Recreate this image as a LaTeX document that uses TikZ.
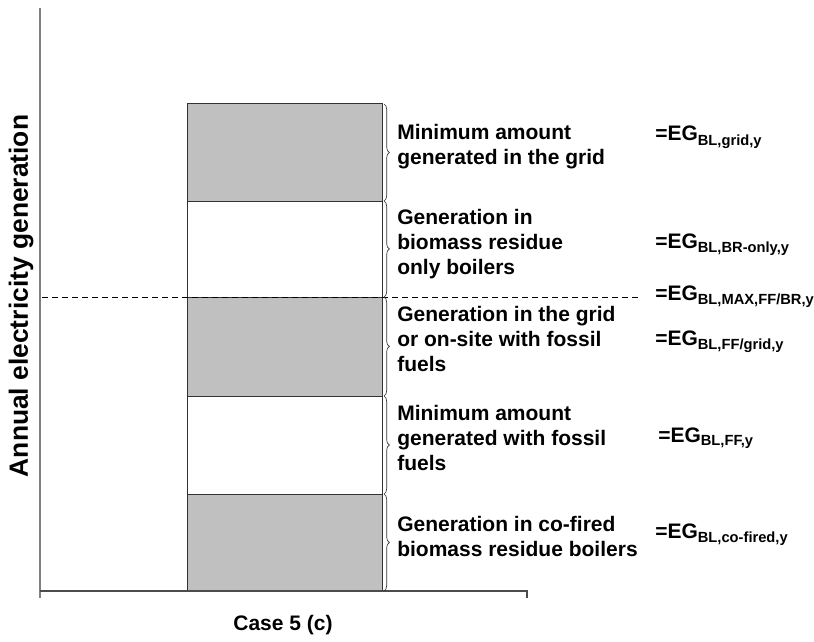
\documentclass[tikz,border=0pt]{standalone}
\usepackage{fontspec}
\setmainfont{Liberation Sans}
\usepackage{xcolor}
\usetikzlibrary{positioning,decorations.pathreplacing}
\definecolor{silver}{RGB}{192,192,192}
\definecolor{axisgray}{RGB}{128,128,128}
\newcommand{\egsub}[1]{=EG\textsubscript{#1}}

\begin{document}
\begin{tikzpicture}[x=0.75pt,y=-0.75pt,
  font=\fontsize{15.75}{19}\selectfont\bfseries,
  seg/.style={draw=black!80, line width=0.75pt},
  bracket/.style={decorate, decoration={brace, amplitude=4pt}, draw=black!80, line width=0.5pt},
  desc/.style={anchor=west, inner sep=0pt, align=left},
  eqn/.style={anchor=base west, inner sep=0pt}]
\useasboundingbox (0,0) rectangle (814,642);

% Stacked bar
\fill[silver] (187,104) rectangle (382,201);
\fill[silver] (187,297) rectangle (382,396);
\fill[silver] (187,494) rectangle (382,591);
\draw[seg] (187,104) rectangle (382,591);
\foreach \y in {201,297,396,494}
  \draw[seg] (187,\y) -- (382,\y);

% Axes
\draw[axisgray, line width=1.2pt] (40,8) -- (40,598);
\draw[black!70, line width=1pt] (40,591) -- (527,591) -- (527,598);
\node[rotate=90, font=\fontsize{19.8}{23}\selectfont\bfseries] (ylab) at (21,296) {Annual electricity generation};
\node (xlab) at (283,625) {Case 5 (c)};

% Threshold
\draw[dashed, dash pattern=on 4.5pt off 3pt, line width=0.75pt] (42,297) -- (640,297);

% Braces
\foreach \y [count=\i] in {104,201,297,396,494,591}
  \coordinate (b\i) at (384,\y);
\foreach \i/\j in {1/2,2/3,3/4,4/5,5/6}
  \draw[bracket] (b\i) -- (b\j);

% Descriptions
\node[desc] (d1) at (397,146.5) {Minimum amount\\generated in the grid};
\node[desc] (d2) at (397,244) {Generation in\\biomass residue\\only boilers};
\node[desc] (d3) at (397,339) {Generation in the grid\\or on-site with fossil\\fuels};
\node[desc] (d4) at (397,438) {Minimum amount\\generated with fossil\\fuels};
\node[desc] (d5) at (397,536.5) {Generation in co-fired\\biomass residue boilers};

% Equations
\node[eqn] (e1) at (655,141) {\egsub{BL,grid,y}};
\node[eqn] (e2) at (655,248) {\egsub{BL,BR-only,y}};
\node[eqn] (e3) at (655,300) {\egsub{BL,MAX,FF/BR,y}};
\node[eqn] (e4) at (655,345) {\egsub{BL,FF/grid,y}};
\node[eqn] (e5) at (658,442) {\egsub{BL,FF,y}};
\node[eqn] (e6) at (655,538) {\egsub{BL,co-fired,y}};
\end{tikzpicture}
\end{document}
